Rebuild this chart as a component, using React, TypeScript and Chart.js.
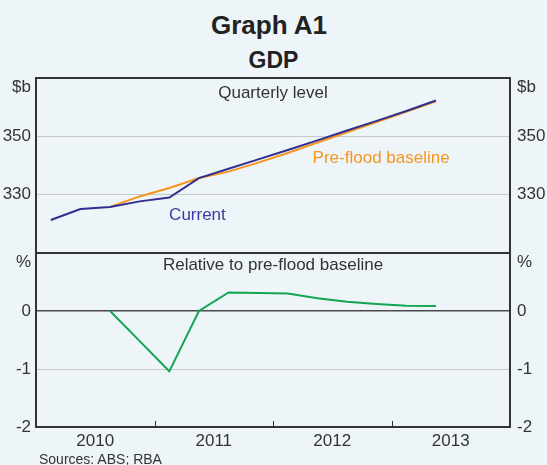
import React, { useEffect, useRef } from 'react';
import { Chart, registerables } from 'chart.js';

Chart.register(...registerables);

// ---------------- data ----------------
const quarters = [
  'Mar-2010', 'Jun-2010', 'Sep-2010', 'Dec-2010',
  'Mar-2011', 'Jun-2011', 'Sep-2011', 'Dec-2011',
  'Mar-2012', 'Jun-2012', 'Sep-2012', 'Dec-2012',
  'Mar-2013', 'Jun-2013',
];
const years = ['2010', '2011', '2012', '2013'];
// GDP quarterly level, $b
const currentGDP = [321.3, 325.1, 325.8, 327.7, 329.0, 335.7, 338.9, 342.1, 345.3, 348.6, 352.0, 355.3, 358.7, 362.3];
const baselineGDP = [null, null, 325.8, 329.4, 332.3, 335.7, 337.9, 341.0, 344.3, 347.9, 351.4, 354.9, 358.4, 362.0];
// Relative to pre-flood baseline, %
const relativePct = [null, null, 0, -0.52, -1.04, 0, 0.32, 0.31, 0.3, 0.22, 0.16, 0.12, 0.09, 0.085];
const levelTicks = [330, 350];
const pctTicks = [0, -1, -2];

// ---------------- styles ----------------
const FONT = 'Arial, "Liberation Sans", Helvetica, sans-serif';
const BG = '#eef5f8';
const DARK = '#333333';
const LIGHT = '#c8c8c8';
const TEXT = '#333333';
const BLUE = '#302f8f';
const BLUE_TEXT = '#3a3aa2';
const ORANGE = '#f7941e';
const GREEN = '#13a54f';

const QUARTERS_SPAN = years.length * 4;

function toPoints(vals: (number | null)[]) {
  const pts: { x: number; y: number }[] = [];
  vals.forEach((v, i) => {
    if (v !== null && v !== undefined) pts.push({ x: i + 0.5, y: v });
  });
  return pts;
}

type Label = { text: string; x: number; y: number; color: string; align: CanvasTextAlign; size: number };

function makeTextPlugin(id: string, unit: string, labels: (c: any) => Label[]) {
  return {
    id,
    afterDraw(chart: any) {
      const { ctx, chartArea } = chart;
      ctx.save();
      ctx.textBaseline = 'middle';
      ctx.font = `17px ${FONT}`;
      ctx.fillStyle = TEXT;
      ctx.textAlign = 'right';
      ctx.fillText(unit, chartArea.left - 5, chartArea.top + 9);
      ctx.textAlign = 'left';
      ctx.fillText(unit, chartArea.right + 7, chartArea.top + 9);
      for (const l of labels(chart)) {
        ctx.font = `${l.size}px ${FONT}`;
        ctx.fillStyle = l.color;
        ctx.textAlign = l.align;
        ctx.fillText(l.text, l.x, l.y);
      }
      ctx.restore();
    },
  };
}

const yearTickPlugin = {
  id: 'yearTicks',
  afterDraw(chart: any) {
    const { ctx, chartArea, scales } = chart;
    ctx.save();
    ctx.strokeStyle = DARK;
    ctx.lineWidth = 1;
    for (let k = 1; k < years.length; k++) {
      const x = Math.round(scales.x.getPixelForValue(k * 4)) + 0.5;
      ctx.beginPath();
      ctx.moveTo(x, chartArea.bottom);
      ctx.lineTo(x, chartArea.bottom - 6);
      ctx.stroke();
    }
    ctx.restore();
  },
};

function fixY(width: number) {
  return (s: any) => {
    s.width = width;
    s.paddingTop = 0;
    s.paddingBottom = 0;
  };
}

export default function App() {
  const topRef = useRef<HTMLCanvasElement>(null);
  const botRef = useRef<HTMLCanvasElement>(null);

  useEffect(() => {
    document.body.style.margin = '0';
    const tickFont = { family: FONT, size: 17 };

    const top = new Chart(topRef.current as HTMLCanvasElement, {
      type: 'line',
      data: {
        datasets: [
          {
            label: 'Current',
            data: toPoints(currentGDP),
            borderColor: BLUE,
            borderWidth: 2,
            pointRadius: 0,
            tension: 0,
          },
          {
            label: 'Pre-flood baseline',
            data: toPoints(baselineGDP),
            borderColor: ORANGE,
            borderWidth: 2,
            pointRadius: 0,
            tension: 0,
          },
        ],
      },
      options: {
        animation: false,
        responsive: false,
        devicePixelRatio: 1,
        layout: { padding: { top: 12, bottom: 12, left: 0, right: 0 } },
        plugins: { legend: { display: false }, tooltip: { enabled: false } },
        scales: {
          x: { type: 'linear', min: 0, max: QUARTERS_SPAN, display: false },
          y: {
            position: 'left',
            min: 310,
            max: 370,
            ticks: {
              stepSize: 20,
              font: tickFont,
              color: TEXT,
              padding: 5,
              callback: (v: any) => (levelTicks.includes(v) ? String(v) : ''),
            },
            grid: {
              drawTicks: false,
              color: (c: any) => (levelTicks.includes(c.tick.value) ? LIGHT : DARK),
              lineWidth: (c: any) => (levelTicks.includes(c.tick.value) ? 1 : 2),
            },
            border: { color: DARK, width: 2 },
            afterFit: fixY(36),
          },
          y2: {
            position: 'right',
            min: 310,
            max: 370,
            ticks: {
              stepSize: 20,
              font: tickFont,
              color: TEXT,
              padding: 7,
              callback: (v: any) => (levelTicks.includes(v) ? String(v) : ''),
            },
            grid: { drawOnChartArea: false, drawTicks: false },
            border: { color: DARK, width: 2 },
            afterFit: fixY(37),
          },
        },
      } as any,
      plugins: [
        makeTextPlugin('topText', '$b', (c: any) => {
          const { chartArea, scales } = c;
          const mid = (chartArea.left + chartArea.right) / 2;
          return [
            { text: 'Quarterly level', x: mid, y: chartArea.top + 15, color: TEXT, align: 'center', size: 17 },
            { text: 'Pre-flood baseline', x: scales.x.getPixelForValue(11.65), y: scales.y.getPixelForValue(342.5), color: ORANGE, align: 'center', size: 17 },
            { text: 'Current', x: scales.x.getPixelForValue(5.45), y: scales.y.getPixelForValue(322.9), color: BLUE_TEXT, align: 'center', size: 17 },
          ];
        }),
      ],
    });

    const bot = new Chart(botRef.current as HTMLCanvasElement, {
      type: 'line',
      data: {
        datasets: [
          {
            label: 'Relative to pre-flood baseline',
            data: toPoints(relativePct),
            borderColor: GREEN,
            borderWidth: 2,
            pointRadius: 0,
            tension: 0,
          },
        ],
      },
      options: {
        animation: false,
        responsive: false,
        devicePixelRatio: 1,
        layout: { padding: { top: 12, bottom: 0, left: 0, right: 0 } },
        plugins: { legend: { display: false }, tooltip: { enabled: false } },
        scales: {
          x: {
            type: 'linear',
            min: 0,
            max: QUARTERS_SPAN,
            afterBuildTicks: (s: any) => {
              s.ticks = years.map((_, k) => ({ value: k * 4 + 2 }));
            },
            ticks: {
              font: tickFont,
              color: TEXT,
              padding: 4,
              autoSkip: false,
              maxRotation: 0,
              callback: (v: any) => years[Math.round((v - 2) / 4)] ?? '',
            },
            grid: { display: false, drawTicks: false },
            border: { display: false },
            afterFit: (s: any) => {
              s.height = 38;
              s.paddingLeft = 0;
              s.paddingRight = 0;
            },
          },
          y: {
            position: 'left',
            min: -2,
            max: 1,
            ticks: {
              stepSize: 1,
              font: tickFont,
              color: TEXT,
              padding: 5,
              callback: (v: any) => (pctTicks.includes(v) ? String(v) : ''),
            },
            grid: {
              drawTicks: false,
              color: (c: any) => (c.tick.value === -1 ? LIGHT : c.tick.value === 0 ? '#4a4a4a' : DARK),
              lineWidth: (c: any) => (c.tick.value === -1 ? 1 : c.tick.value === 0 ? 1.5 : 2),
            },
            border: { color: DARK, width: 2 },
            afterFit: fixY(36),
          },
          y2: {
            position: 'right',
            min: -2,
            max: 1,
            ticks: {
              stepSize: 1,
              font: tickFont,
              color: TEXT,
              padding: 7,
              callback: (v: any) => (pctTicks.includes(v) ? String(v) : ''),
            },
            grid: { drawOnChartArea: false, drawTicks: false },
            border: { color: DARK, width: 2 },
            afterFit: fixY(37),
          },
        },
      } as any,
      plugins: [
        yearTickPlugin,
        makeTextPlugin('botText', '%', (c: any) => {
          const { chartArea } = c;
          const mid = (chartArea.left + chartArea.right) / 2;
          return [
            { text: 'Relative to pre-flood baseline', x: mid, y: chartArea.top + 12, color: TEXT, align: 'center', size: 17 },
          ];
        }),
      ],
    });

    return () => {
      top.destroy();
      bot.destroy();
    };
  }, []);

  return (
    <div
      style={{
        position: 'absolute',
        left: 0,
        top: 0,
        width: 547,
        height: 465,
        background: BG,
        overflow: 'hidden',
        fontFamily: FONT,
        color: TEXT,
      }}
    >
      <div style={{ position: 'absolute', left: 0, width: 538, top: 12, fontSize: 26, lineHeight: '26px', fontWeight: 'bold', textAlign: 'center', color: '#222' }}>
        Graph A1
      </div>
      <div style={{ position: 'absolute', left: 0, width: 547, top: 49, fontSize: 23, lineHeight: '23px', fontWeight: 'bold', textAlign: 'center', color: '#222' }}>
        GDP
      </div>
      <canvas ref={topRef} width={547} height={199} style={{ position: 'absolute', left: 0, top: 66 }} />
      <canvas ref={botRef} width={547} height={224} style={{ position: 'absolute', left: 0, top: 241 }} />
      <div style={{ position: 'absolute', left: 39, top: 452, fontSize: 14, lineHeight: '14px', whiteSpace: 'nowrap' }}>
        Sources: ABS; RBA
      </div>
    </div>
  );
}
